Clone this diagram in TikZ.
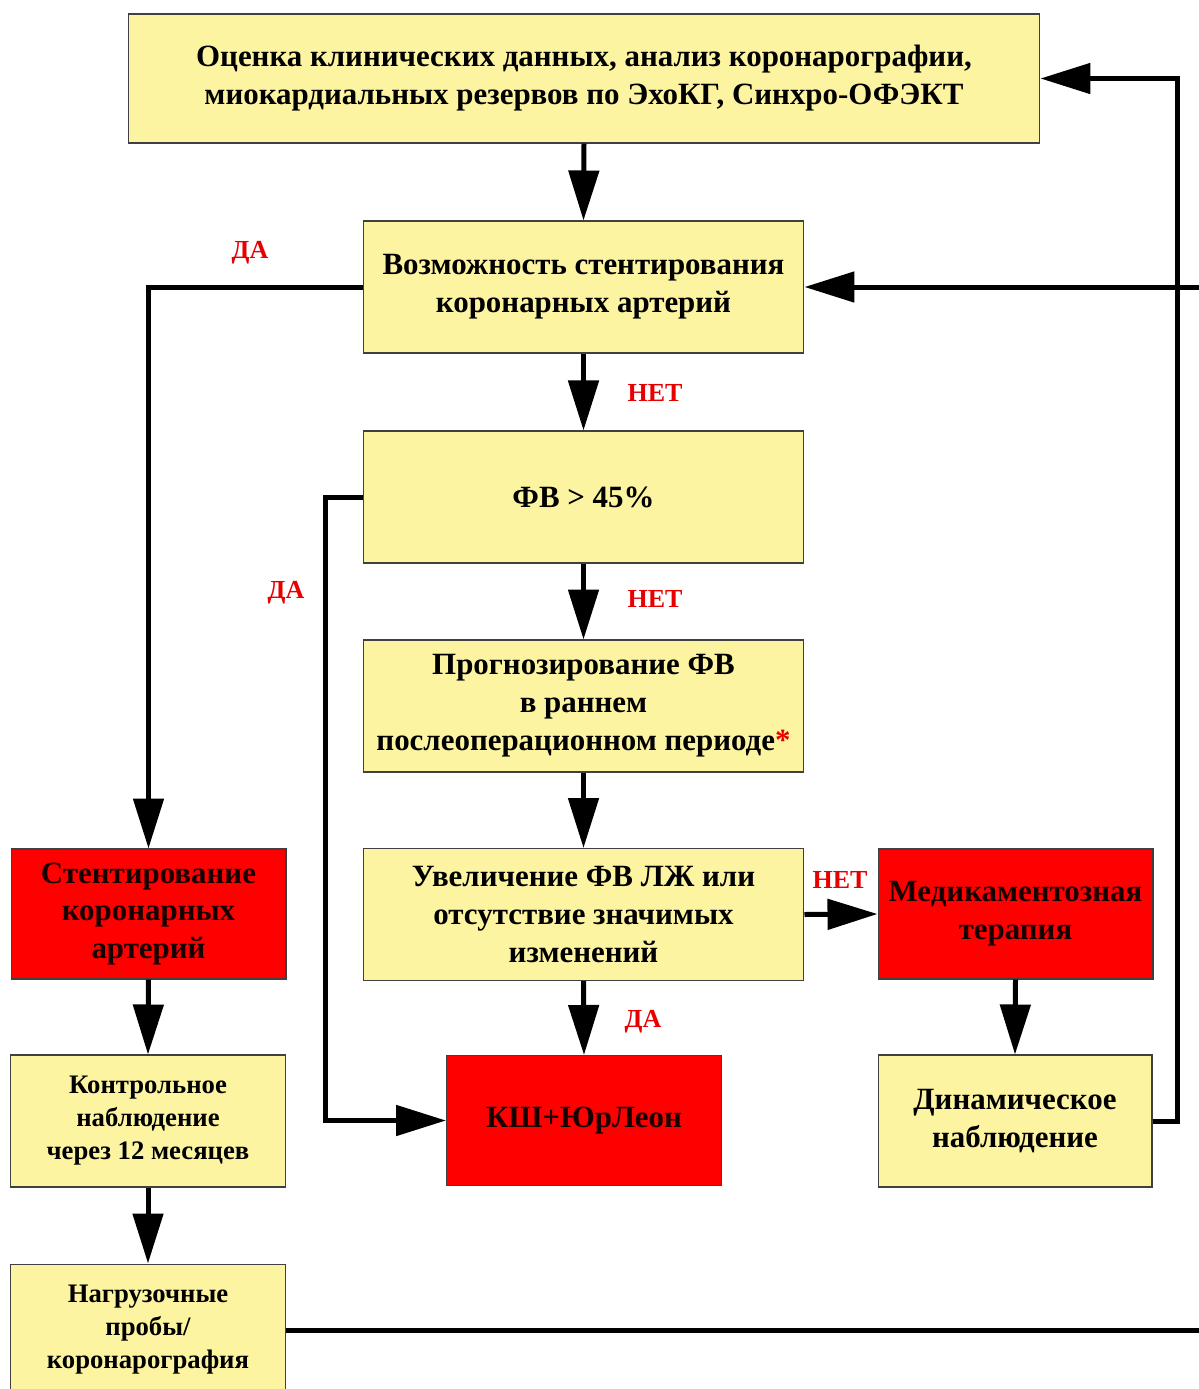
\documentclass[tikz,border=0pt]{standalone}
\usepackage{fontspec}
\setmainfont{Liberation Serif}[BoldFont={Liberation Serif Bold}]
\usetikzlibrary{arrows.meta,positioning}
\definecolor{paleyellow}{HTML}{FCF4A0}
\definecolor{alarm}{HTML}{FF0000}
\definecolor{labelred}{HTML}{E80000}

\begin{document}
\begin{tikzpicture}[x=0.02cm,y=-0.02cm,
  box/.style={draw=black!75,line width=0.6pt,fill=paleyellow,align=center,inner sep=0pt,
    minimum width=8.82cm,minimum height=2.64cm,font=\rmfamily\fontsize{17.6}{21.6}\selectfont\bfseries},
  smallbox/.style={box,minimum width=5.5cm,font=\rmfamily\fontsize{15.2}{18.8}\selectfont\bfseries},
  redbox/.style={box,minimum width=5.5cm,minimum height=2.6cm,fill=alarm,text=black!90!red},
  lbl/.style={text=labelred,font=\rmfamily\fontsize{14.8}{17}\selectfont\bfseries,inner sep=0pt},
  arr/.style={line width=0.1cm,-{Triangle[length=1.0cm,width=0.6cm]}},
  wire/.style={line width=0.1cm}]
  \useasboundingbox (0,0) rectangle (1198,1389);

  % main column
  \node[box,minimum width=18.24cm,minimum height=2.58cm] (top) at (584,78.5)
    {Оценка клинических данных, анализ коронарографии,\\миокардиальных резервов по ЭхоКГ, Синхро-ОФЭКТ};
  \node[box] (vozm) at (583.5,287) {Возможность стентирования\\коронарных артерий};
  \node[box] (fv) at (583.5,497) {ФВ > 45\%};
  \node[box] (prog) at (583.5,706)
    {Прогнозирование ФВ\\в раннем\\послеоперационном периоде\textcolor{labelred}{*}};
  \node[box] (uvel) at (583.5,914.5) {Увеличение ФВ ЛЖ или\\отсутствие значимых\\изменений};
  \node[redbox] (ksh) at (584,1120.5) {КШ+ЮрЛеон};

  % right column
  \node[redbox] (med) at (1015.5,914) {Медикаментозная\\терапия};
  \node[box,minimum width=5.48cm] (dyn) at (1015,1121) {Динамическое\\наблюдение};

  % left column
  \node[redbox] (stent) at (148.5,914) {Стентирование\\коронарных\\артерий};
  \node[smallbox] (kontr) at (148,1121) {Контрольное\\наблюдение\\через 12 месяцев};
  \node[smallbox] (nagr) at (148,1330) {Нагрузочные\\пробы/\\коронарография};

  \coordinate (edgeA) at (1205,1330);
  \coordinate (edgeB) at (1205,287);

  % arrows
  \foreach \a/\b in {top/vozm,vozm/fv,fv/prog,prog/uvel,uvel/ksh,med/dyn,stent/kontr,kontr/nagr}
    \draw[arr] (\a.south) -- (\b.north);
  \draw[arr] (uvel.east) -- (med.west);
  \draw[arr] (vozm.west) -| (stent.north);
  \draw[arr] (fv.west) -- ++(-37,0) |- (ksh.west);
  \draw[arr] (dyn.east) -- ++(25,0) |- (top.east);
  \draw[wire] (nagr.east) -- (edgeA);
  \draw[arr] (edgeB) -- (vozm.east);

  % answers
  \foreach \x/\y/\t [count=\i] in {250/253/ДА,655/393/НЕТ,286/593/ДА,655/599/НЕТ,840/880/НЕТ,643/1022/ДА}
    \node[lbl] (ans\i) at (\x,\y) {\t};
\end{tikzpicture}
\end{document}
